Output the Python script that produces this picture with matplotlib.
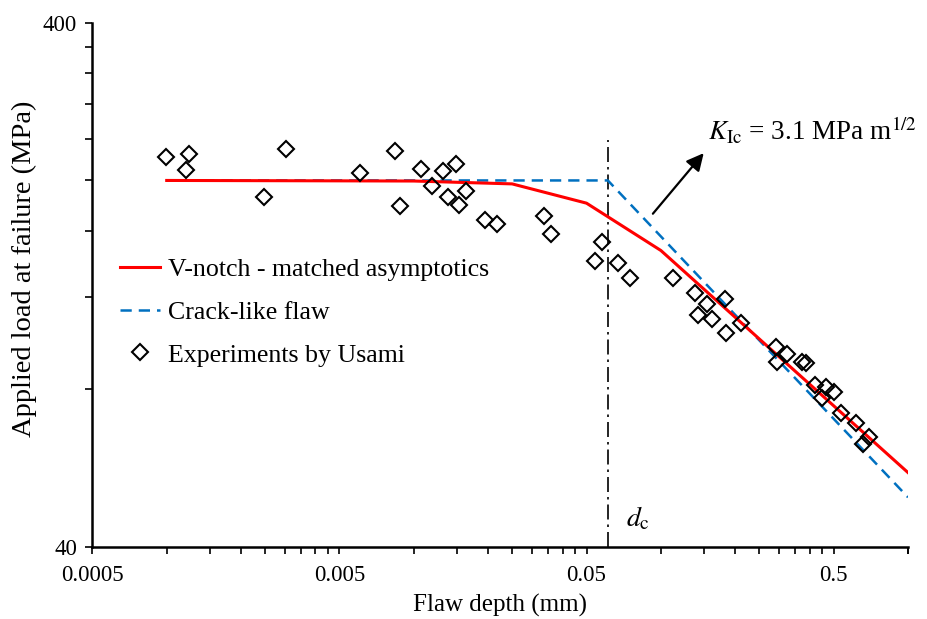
"""
Applied load at failure vs. flaw depth (log-log)
V-notch matched asymptotics, crack-like flaw and Usami's experiments
"""

import matplotlib
matplotlib.use("Agg")
import matplotlib.pyplot as plt
from matplotlib.ticker import FixedLocator, NullFormatter

# V-notch - matched asymptotics (polyline vertices)
notch_x = [0.001, 0.01, 0.025, 0.05, 0.1, 1.0]
notch_y = [200, 199.5, 197, 181, 147, 55.4]

# Crack-like flaw: plateau up to d_c, then K_Ic branch
crack_x = [0.001, 0.061, 1.0]
crack_y = [200, 200, 49.7]

# Experiments by Usami
exp_x = [0.00099, 0.00123, 0.0012, 0.00247, 0.00303, 0.00608, 0.00843, 0.00883,
         0.0107, 0.0118, 0.0131, 0.0148, 0.0137, 0.0152, 0.0163, 0.0195, 0.0217,
         0.0338, 0.036, 0.0577, 0.0542, 0.067, 0.0752, 0.112, 0.137, 0.153,
         0.141, 0.161, 0.182, 0.183, 0.211, 0.293, 0.324, 0.296, 0.372, 0.388,
         0.422, 0.467, 0.501, 0.45, 0.534, 0.618, 0.695, 0.657]
exp_y = [222, 225, 209.6, 185.9, 229.5, 206.9, 227.4, 179, 209.9, 195.5, 208.4,
         215.3, 185.9, 179.8, 190.8, 167.8, 165.2, 170.8, 158.4, 152.6, 140.4,
         139.2, 130, 130, 122, 116.1, 110.6, 108.6, 118.7, 102.1, 106.8, 96.1,
         93.1, 90.2, 90.2, 89.8, 81.4, 80.8, 79.0, 77.0, 71.9, 68.8, 64.9, 62.8]

# critical depth
d_c = 0.061

x_ticks = [0.0005, 0.005, 0.05, 0.5]
x_ticklabels = ['0.0005', '0.005', '0.05', '0.5']
y_ticks = [40, 400]
y_ticklabels = ['40', '400']


def main():
    plt.rcParams['font.family'] = ['Liberation Serif', 'DejaVu Serif']
    plt.rcParams['mathtext.fontset'] = 'stix'

    fig = plt.figure(figsize=(9.27, 6.19), dpi=100)
    ax = fig.add_axes([0.0996, 0.1168, 0.8799, 0.8465])

    ax.set_xscale('log')
    ax.set_yscale('log')
    ax.set_xlim(0.0005, 1.0)
    ax.set_ylim(40, 400)

    # curves
    ax.plot(crack_x, crack_y, color='#0070C0', lw=1.8, dashes=(4.5, 2.8),
            label='Crack-like flaw', zorder=3)
    ax.plot(notch_x, notch_y, color='#FF0000', lw=2.2,
            label='V-notch - matched asymptotics', zorder=4)
    ax.plot(exp_x, exp_y, linestyle='none', marker='D', markersize=8,
            markerfacecolor='none', markeredgecolor='black', markeredgewidth=1.5,
            label='Experiments by Usami', zorder=5)

    # d_c marker line
    ax.axvline(d_c, ymin=0, ymax=0.777, color='black', lw=1.2,
               dashes=(9, 3, 1.5, 3), zorder=2)
    ax.text(0.0719, 43.7, r'$d_\mathrm{c}$', fontsize=20, va='baseline')

    # K_Ic annotation
    ax.annotate('', xy=(0.149, 225.5), xytext=(0.0928, 172.8),
                arrowprops=dict(arrowstyle='-|>', mutation_scale=26, lw=1.6,
                                color='black', shrinkA=0, shrinkB=0))
    ax.text(0.1545, 239, r'$K_\mathrm{Ic}$ = 3.1 MPa m$^{1/2}$', fontsize=19.5,
            va='baseline')

    # axes style
    for side in ['top', 'right']:
        ax.spines[side].set_visible(False)
    for side in ['left', 'bottom']:
        ax.spines[side].set_linewidth(1.8)

    ax.xaxis.set_major_locator(FixedLocator(x_ticks))
    ax.set_xticklabels(x_ticklabels)
    minor_x = [base * k for base in x_ticks for k in range(2, 10) if base * k <= 1.0]
    minor_x.append(1.0)
    ax.xaxis.set_minor_locator(FixedLocator(minor_x))
    ax.xaxis.set_minor_formatter(NullFormatter())

    ax.yaxis.set_major_locator(FixedLocator(y_ticks))
    ax.set_yticklabels(y_ticklabels)
    ax.yaxis.set_minor_locator(FixedLocator([40 * k for k in range(2, 10)]))
    ax.yaxis.set_minor_formatter(NullFormatter())

    ax.tick_params(which='both', direction='out', length=5, width=1.2,
                   labelsize=16.5, pad=6)
    ax.tick_params(axis='x', pad=8)

    ax.set_xlabel('Flaw depth (mm)', fontsize=18, labelpad=6)
    ax.set_ylabel('Applied load at failure (MPa)', fontsize=20.5, labelpad=6)
    ax.yaxis.set_label_coords(-0.068, 0.53)

    # legend order: red, blue, markers
    handles, labels = ax.get_legend_handles_labels()
    order = [1, 0, 2]
    ax.legend([handles[i] for i in order], [labels[i] for i in order],
              loc='upper left', bbox_to_anchor=(120 / 927, 1 - 258 / 619),
              bbox_transform=fig.transFigure, frameon=False, fontsize=18.6,
              handlelength=1.55, handletextpad=0.3, labelspacing=0.76,
              borderpad=0, borderaxespad=0)

    fig.savefig('out.png', dpi=100)
    plt.close(fig)


if __name__ == "__main__":
    main()
